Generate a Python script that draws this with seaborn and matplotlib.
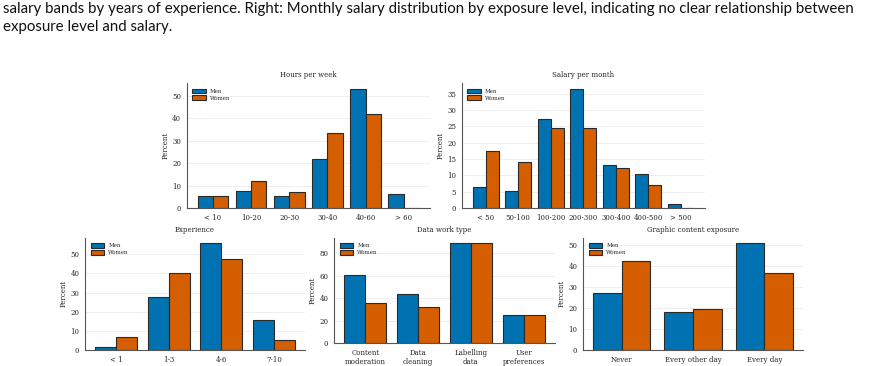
import matplotlib
matplotlib.use("Agg")
import matplotlib.pyplot as plt
import seaborn as sns
import pandas as pd

# ---- data (percent of each gender group) ----
hours_cats = ['< 10', '10-20', '20-30', '30-40', '40-60', '> 60']
hours_men = [5.2, 7.8, 5.2, 21.9, 53.2, 6.4]
hours_women = [5.2, 12.2, 7.0, 33.3, 42.1, 0.0]

salary_cats = ['< 50', '50-100', '100-200', '200-300', '300-400', '400-500', '> 500']
salary_men = [6.4, 5.1, 27.3, 36.4, 13.0, 10.4, 1.3]
salary_women = [17.5, 14.1, 24.6, 24.6, 12.2, 7.0, 0.0]

exp_cats = ['< 1', '1-3', '4-6', '7-10']
exp_men = [1.4, 27.5, 55.9, 15.6]
exp_women = [6.9, 40.1, 47.6, 5.2]

work_cats = ['Content\nmoderation', 'Data\ncleaning', 'Labelling\ndata', 'User\npreferences']
work_men = [61.0, 44.1, 89.5, 24.6]
work_women = [35.3, 31.7, 89.5, 24.6]

expo_cats = ['Never', 'Every other day', 'Every day']
expo_men = [27.3, 18.2, 50.8]
expo_women = [42.2, 19.3, 36.8]

caption = ["salary bands by years of experience. Right: Monthly salary distribution by exposure level, "
           "indicating no clear relationship between",
           "exposure level and salary."]

palette = {'Men': '#0072B2', 'Women': '#D55E00'}

sns.set_theme(style="white")
plt.rcParams['font.family'] = ['DejaVu Serif']

W, H = 869, 366
fig = plt.figure(figsize=(W / 100, H / 100), dpi=100)


def px_axes(x0, x1, y0, y1):
    return fig.add_axes([x0 / W, 1 - y1 / H, (x1 - x0) / W, (y1 - y0) / H])


def panel(ax, title, cats, men, women):
    df = pd.DataFrame({
        'cat': cats * 2,
        'pct': men + women,
        'status': ['Men'] * len(cats) + ['Women'] * len(cats),
    })
    sns.barplot(data=df, x='cat', y='pct', hue='status', order=cats,
                palette=palette, saturation=1, width=0.8,
                edgecolor='#2a2a2a', linewidth=0.8, ax=ax, zorder=3)
    n = len(cats)
    pad = 0.05 * (n - 1 + 0.8)
    ax.set_xlim(-0.4 - pad, n - 1 + 0.4 + pad)
    ax.set_title(title, fontsize=5, pad=4)
    ax.set_ylabel('Percent', fontsize=5, labelpad=2)
    ax.set_xlabel('')
    ax.tick_params(axis='both', labelsize=5, length=2, width=0.5, pad=2,
                   color='#444444')
    ax.yaxis.grid(True, color='#ececec', linewidth=0.6, zorder=0)
    ax.set_axisbelow(True)
    for s in ['top', 'right']:
        ax.spines[s].set_visible(False)
    for s in ['left', 'bottom']:
        ax.spines[s].set_color('#555555')
        ax.spines[s].set_linewidth(0.8)
    ax.legend(loc='upper left', frameon=False, fontsize=4, title=None,
              handlelength=2.4, handleheight=0.9, borderaxespad=0.6,
              labelspacing=0.3)


panel(px_axes(186.7, 430, 83, 208), 'Hours per week', hours_cats, hours_men, hours_women)
panel(px_axes(461.7, 705, 83, 208), 'Salary per month', salary_cats, salary_men, salary_women)
panel(px_axes(85, 305, 237.7, 350), 'Experience', exp_cats, exp_men, exp_women)
panel(px_axes(334, 555, 237.7, 343), 'Data work type', work_cats, work_men, work_women)
panel(px_axes(583, 803, 237.7, 350), 'Graphic content exposure', expo_cats, expo_men, expo_women)

for i, line in enumerate(caption):
    fig.text(3 / W, 1 - (12.5 + 18 * i) / H, line, family=['Lato', 'DejaVu Sans'],
             fontsize=10.85, va='baseline', ha='left', color='#111111')

fig.savefig('out.png', dpi=100)
